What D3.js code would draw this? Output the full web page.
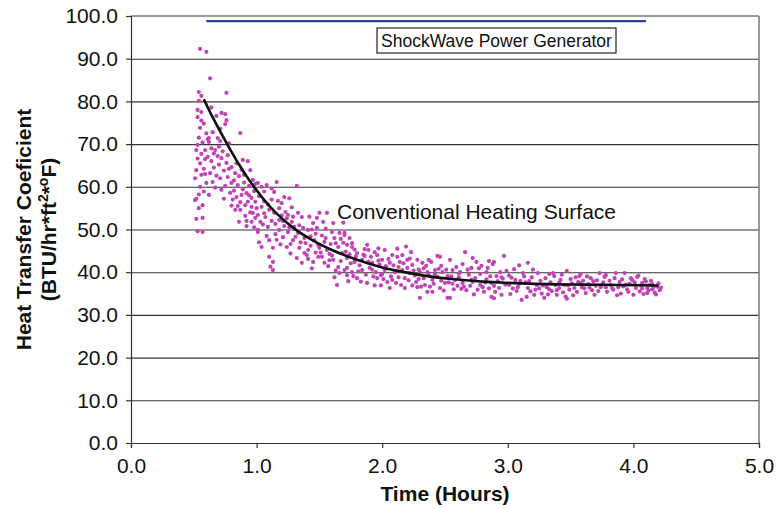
<!DOCTYPE html>
<html>
<head>
<meta charset="utf-8">
<script src="https://cdn.jsdelivr.net/npm/d3@7"></script>
<style>
  body { margin: 0; background: #fff; }
  text { font-family: "Liberation Sans", Arial, sans-serif; fill: #111; }
</style>
</head>
<body>
<script>
// tick values for both axes
var xTicks = [0, 1, 2, 3, 4, 5];
var yTicks = [0, 10, 20, 30, 40, 50, 60, 70, 80, 90, 100];

// ShockWave run, flat line near the top (hours, value)
var shockTime = [0.6, 4.1];
var shockValue = [98.8, 98.8];

// trend line through the conventional surface data
var fitLine = [[0.58,80.5],[0.65,76.3],[0.75,70.8],[0.85,65.7],[0.95,61.2],[1.05,57.3],[1.15,54.0],
  [1.3,50.2],[1.45,47.4],[1.6,45.2],[1.8,42.9],[2.0,41.1],[2.2,39.9],[2.4,38.9],[2.6,38.3],
  [2.8,37.8],[3.0,37.5],[3.3,37.2],[3.6,37.1],[3.9,37.0],[4.2,36.9]];

// conventional heating surface measurements [hours, coefficient]
var convPoints = [
  [0.52,57.2],[0.53,49.6],[0.52,52.5],[0.54,55.0],[0.55,92.3],[0.60,91.6],[0.54,82.2],[0.56,81.3],[0.54,80.1],[0.53,78.0],
  [0.56,77.5],[0.53,76.3],[0.55,73.8],[0.53,69.8],[0.52,68.6],[0.56,67.7],[0.59,68.6],[0.52,63.9],[0.51,62.0],[0.60,60.9],
  [0.51,56.9],[0.57,55.7],[0.57,52.7],[0.57,49.4],[0.55,65.5],[0.58,64.2],[0.54,71.5],[0.57,70.4],[0.58,74.8],[0.59,66.5],
  [0.56,62.8],[0.58,58.9],[0.55,60.0],[0.53,66.6],[0.60,72.5],[0.56,75.5],[0.59,63.0],[0.54,58.2],
  [0.63,85.4],[0.76,82.0],[0.68,76.6],[0.72,77.3],[0.75,77.0],[0.76,75.6],[0.75,74.7],[0.87,72.6],[0.62,71.4],[0.69,71.4],
  [0.61,71.2],[0.62,70.5],[0.71,70.7],[0.64,69.0],[0.67,68.6],[0.69,67.2],[0.61,67.0],[0.64,66.0],[0.72,66.7],[0.77,67.4],
  [0.76,65.6],[0.80,64.6],[0.65,61.1],[0.71,62.0],[0.77,62.3],[0.72,59.3],[0.80,60.9],[0.66,64.5],[0.70,65.2],[0.74,63.8],
  [0.63,63.2],[0.68,62.6],[0.73,68.3],[0.78,70.2],[0.66,67.8],[0.79,58.6],[0.75,60.2],[0.62,58.1],[0.67,59.8],[0.74,57.2],
  [0.70,69.4],[0.65,72.8],[0.64,78.6],[0.71,73.6],[0.78,64.2],
  [0.83,63.2],[0.89,66.3],[0.93,66.0],[0.95,63.9],[0.85,60.4],[0.84,57.6],[0.88,58.1],[0.92,58.5],[0.96,57.4],[0.87,56.4],
  [0.91,55.7],[0.96,55.3],[1.00,55.0],[0.83,54.6],[0.87,54.6],[0.97,53.9],[0.99,52.7],[0.92,52.0],[0.96,51.8],[0.92,50.8],
  [0.82,61.5],[0.86,62.5],[0.90,61.0],[0.94,60.2],[0.98,59.0],[0.81,57.0],[0.89,59.4],[0.93,56.5],[0.85,55.5],[0.97,61.6],
  [0.91,53.2],[0.99,56.5],[0.88,64.0],[0.82,59.1],[0.95,54.0],[0.84,65.5],[0.90,62.8],[0.94,58.0],[0.99,60.7],[0.80,55.6],
  [0.86,51.8],[0.98,50.5],
  [1.01,53.4],[1.03,51.8],[1.01,49.4],[1.01,60.9],[1.04,60.0],[1.08,60.4],[1.16,61.1],[1.14,58.8],[1.22,57.6],[1.20,56.2],
  [1.04,55.3],[1.10,54.6],[1.14,53.9],[1.07,52.9],[1.18,52.2],[1.01,49.9],[1.09,50.6],[1.18,49.9],[1.21,48.2],[1.10,47.5],
  [1.04,45.9],[1.13,45.7],[1.24,45.9],[1.10,43.6],[1.13,42.4],[1.13,40.5],[1.11,41.3],[1.06,56.6],[1.12,57.0],[1.18,55.0],
  [1.23,54.1],[1.05,51.2],[1.15,51.3],[1.22,50.8],[1.08,48.5],[1.16,47.6],[1.19,46.5],[1.24,52.6],[1.02,57.8],[1.12,52.0],
  [1.20,53.3],[1.06,53.8],[1.15,48.9],[1.02,47.0],[1.06,58.9],[1.09,55.9],[1.17,56.7],[1.21,52.0],[1.12,59.6],
  [1.32,60.2],[1.25,53.4],[1.33,53.9],[1.28,51.8],[1.36,52.9],[1.45,51.5],[1.25,49.4],[1.33,49.2],[1.41,49.9],[1.48,50.4],
  [1.29,47.5],[1.38,48.0],[1.46,47.5],[1.34,45.7],[1.41,45.2],[1.32,43.3],[1.41,43.1],[1.36,42.2],[1.45,42.4],[1.27,46.6],
  [1.30,50.6],[1.37,50.4],[1.43,48.4],[1.49,46.4],[1.27,44.4],[1.39,46.8],[1.47,44.6],[1.31,48.3],[1.44,50.0],[1.35,47.0],
  [1.40,44.0],[1.49,43.6],[1.28,55.2],[1.42,53.0],[1.26,50.5],[1.29,53.0],[1.34,51.0],[1.38,44.5],[1.43,46.2],[1.47,49.0],
  [1.26,57.3],[1.48,52.7],[1.44,40.9],
  [1.50,53.9],[1.56,53.9],[1.53,51.8],[1.61,51.5],[1.60,49.4],[1.66,49.2],[1.70,48.7],[1.54,47.1],[1.62,48.0],[1.50,45.7],
  [1.56,45.2],[1.65,45.9],[1.72,46.4],[1.52,43.6],[1.61,42.9],[1.54,42.2],[1.65,41.2],[1.70,40.5],[1.66,39.8],[1.72,39.3],
  [1.70,49.2],[1.72,43.3],[1.72,41.0],[1.64,37.0],[1.58,44.3],[1.68,44.5],[1.52,48.6],[1.59,46.6],[1.67,42.6],[1.63,40.4],
  [1.57,41.4],[1.74,44.2],[1.60,43.9],[1.69,46.9],[1.55,50.2],[1.73,37.9],[1.62,38.8],[1.74,48.0],[1.51,44.6],[1.55,48.0],
  [1.58,42.8],[1.63,46.8],[1.67,47.8],[1.71,44.8],[1.69,51.6],
  [1.76,46.8],[1.76,45.9],[1.86,45.4],[1.89,45.2],[1.94,44.7],[1.96,44.0],[1.80,44.5],[1.78,42.4],[1.84,42.9],[1.92,42.2],
  [1.76,40.0],[1.84,40.5],[1.90,41.0],[1.95,40.0],[1.80,38.6],[1.88,37.5],[1.96,38.6],[1.82,41.6],[1.87,39.4],[1.93,39.0],
  [1.98,41.8],[1.79,43.7],[1.86,43.8],[1.91,43.6],[1.99,39.3],[1.83,37.8],[1.94,36.9],[1.77,39.1],[1.88,46.4],[1.97,42.7],
  [1.75,42.1],[1.78,45.3],[1.81,40.2],[1.85,44.1],[1.89,42.5],[1.92,40.6],[1.97,45.6],[1.99,36.9],
  [2.02,45.2],[2.08,44.0],[2.12,43.6],[2.16,44.0],[2.23,44.7],[2.00,42.9],[2.06,42.2],[2.14,42.4],[2.20,42.9],[2.24,41.7],
  [2.02,40.5],[2.10,40.0],[2.16,40.5],[2.22,39.8],[2.04,37.7],[2.11,37.5],[2.18,38.6],[2.27,37.7],[2.06,36.3],[2.18,36.3],
  [2.28,36.5],[2.07,39.0],[2.13,38.8],[2.20,41.0],[2.26,39.2],[2.03,41.4],[2.09,41.6],[2.15,37.0],[2.24,36.9],[2.29,40.6],
  [2.01,38.4],[2.22,43.2],[2.12,45.5],[2.28,42.9],[2.00,39.6],[2.05,43.1],[2.08,38.2],[2.13,41.2],[2.17,42.1],[2.21,38.1],
  [2.25,40.4],[2.29,38.4],[2.19,46.0],
  [2.30,34.0],[2.32,42.2],[2.39,42.4],[2.46,43.6],[2.54,42.9],[2.30,40.0],[2.36,40.0],[2.42,40.5],[2.48,40.0],[2.56,40.5],
  [2.62,40.0],[2.34,37.0],[2.40,38.2],[2.50,37.5],[2.58,38.2],[2.46,36.3],[2.54,34.0],[2.52,34.0],[2.44,43.8],[2.66,44.7],
  [2.64,41.9],[2.64,37.5],[2.33,38.6],[2.38,36.6],[2.44,38.9],[2.52,39.1],[2.60,36.8],[2.35,41.5],[2.41,37.3],[2.47,41.5],
  [2.53,37.6],[2.57,36.0],[2.61,38.8],[2.37,39.3],[2.49,35.7],[2.45,40.8],[2.59,41.2],[2.31,36.6],[2.55,39.0],[2.63,36.1],
  [2.40,35.4],[2.33,40.9],[2.37,42.9],[2.42,39.5],[2.47,38.0],[2.51,40.6],[2.56,37.3],[2.61,39.7],[2.65,36.6],[2.36,35.4],
  [2.75,42.4],[2.88,41.9],[2.89,42.4],[2.84,41.0],[2.85,42.6],[2.97,43.8],[2.99,40.3],[2.72,37.7],[2.80,36.5],[2.87,37.5],
  [2.93,36.3],[2.67,35.8],[2.81,35.4],[2.95,34.7],[2.87,34.2],[2.69,39.4],[2.74,38.6],[2.78,39.6],[2.83,38.3],[2.91,39.1],
  [2.96,38.5],[2.70,36.8],[2.76,35.9],[2.85,36.2],[2.90,35.4],[2.98,37.1],[2.68,40.6],[2.77,40.9],[2.82,37.6],[2.94,40.0],
  [2.73,34.8],[2.79,41.5],[2.86,39.0],[2.92,37.9],[2.71,38.2],[2.71,41.0],[2.78,37.0],[2.83,40.0],[2.89,36.8],[2.95,38.8],
  [2.72,43.3],[2.89,33.9],
  [3.01,37.0],[3.05,40.7],[3.12,39.8],[3.08,36.5],[3.16,42.2],[3.11,33.5],[3.15,34.2],[3.16,36.3],[3.24,39.8],[3.23,37.0],
  [3.21,34.7],[3.33,39.6],[3.37,39.1],[3.31,36.5],[3.29,34.0],[3.39,35.8],[3.39,34.7],[3.36,39.8],[3.03,38.7],[3.07,35.6],
  [3.10,38.0],[3.14,37.6],[3.19,38.8],[3.18,35.5],[3.26,38.0],[3.28,36.9],[3.34,37.6],[3.04,36.2],[3.13,39.0],[3.22,35.9],
  [3.30,38.6],[3.35,35.6],[3.02,34.9],[3.20,40.6],[3.27,35.0],[3.38,37.0],[3.06,38.2],[3.32,34.8],[3.01,39.2],[3.09,37.3],
  [3.17,37.9],[3.25,36.2],[3.33,36.0],[3.09,41.6],
  [3.45,37.0],[3.47,40.3],[3.53,36.3],[3.55,35.4],[3.57,39.1],[3.58,39.6],[3.59,36.5],[3.67,35.8],[3.69,34.7],[3.73,39.8],
  [3.74,36.5],[3.78,39.3],[3.79,35.4],[3.77,38.9],[3.78,36.5],[3.42,38.2],[3.44,35.3],[3.48,36.9],[3.50,38.4],[3.52,34.6],
  [3.56,37.7],[3.60,38.0],[3.62,35.1],[3.64,37.2],[3.66,38.6],[3.70,36.8],[3.72,35.6],[3.76,37.6],[3.43,39.4],[3.51,37.4],
  [3.61,36.2],[3.68,37.9],[3.46,34.3],[3.63,39.0],[3.71,38.1],[3.54,38.8],[3.41,36.3],[3.41,37.6],[3.49,35.9],[3.58,37.4],
  [3.65,36.4],[3.75,37.1],[3.47,33.8],
  [3.86,39.8],[3.93,39.8],[3.89,37.7],[3.99,38.2],[4.07,37.5],[4.11,36.3],[4.03,38.9],[4.00,34.7],[4.11,35.1],[3.82,37.0],
  [3.84,35.9],[3.88,36.5],[3.91,38.3],[3.95,36.0],[3.97,37.3],[4.02,36.3],[4.05,35.5],[4.09,38.4],[4.13,37.0],[4.15,36.0],
  [4.17,35.2],[4.19,36.6],[4.21,35.8],[4.20,37.4],[4.18,34.8],[3.85,38.6],[3.90,35.0],[3.94,37.1],[4.01,37.6],[4.06,36.9],
  [4.14,38.0],[4.16,36.6],[4.08,34.9],[3.81,38.0],[3.96,35.4],[4.04,39.2],[4.12,35.7],[4.22,36.4],[3.87,34.6],[4.10,37.8],
  [3.83,36.3],[3.92,36.7],[3.98,38.6],[4.07,36.2],[4.15,37.2]
];

var svgW = 777, svgH = 509;
var margin = {left:131, right:18, top:16, bottom:66};
var width = svgW - margin.left - margin.right;
var height = svgH - margin.top - margin.bottom;

var x = d3.scaleLinear().domain([0, 5]).range([0, width]);
var y = d3.scaleLinear().domain([0, 100]).range([height, 0]);

var svg = d3.select("body").append("svg")
    .attr("width", svgW).attr("height", svgH);

var chartGroup = svg.append("g")
    .attr("transform", "translate(" + margin.left + "," + margin.top + ")");

// horizontal grid lines
chartGroup.append("g")
    .attr("class", "grid")
    .call(d3.axisLeft(y).tickValues(yTicks.slice(1, -1)).tickSize(-width).tickFormat(""))
    .call(function(g){ g.select(".domain").remove(); })
    .selectAll("line").attr("stroke", "#333").attr("stroke-width", 1.1);

// top and right frame
chartGroup.append("line").attr("x1", 0).attr("x2", width).attr("y1", y(100)).attr("y2", y(100))
    .attr("stroke", "#777").attr("stroke-width", 1.5);
chartGroup.append("line").attr("x1", width).attr("x2", width).attr("y1", 0).attr("y2", height)
    .attr("stroke", "#777").attr("stroke-width", 1.5);

// scatter points
chartGroup.append("g").selectAll("circle")
    .data(convPoints).enter().append("circle")
    .attr("cx", function(d){ return x(d[0]); })
    .attr("cy", function(d){ return y(d[1]); })
    .attr("r", 2.1)
    .attr("fill", "#c044b6");

// trend line
var line = d3.line()
    .x(function(d){ return x(d[0]); })
    .y(function(d){ return y(d[1]); })
    .curve(d3.curveMonotoneX);

chartGroup.append("path").attr("d", line(fitLine))
    .attr("fill", "none").attr("stroke", "#111").attr("stroke-width", 2.6);

// shockwave line
chartGroup.append("path")
    .attr("d", line(shockTime.map(function(t, i){ return [t, shockValue[i]]; })))
    .attr("fill", "none").attr("stroke", "#2b3d94").attr("stroke-width", 2.2);

// axes
var yAxis = d3.axisLeft(y).tickValues(yTicks).tickSize(5).tickPadding(8)
    .tickFormat(d3.format(".1f"));
var xAxis = d3.axisBottom(x).tickValues(xTicks).tickSize(5).tickPadding(8)
    .tickFormat(d3.format(".1f"));

var yG = chartGroup.append("g").attr("class", "axis y").call(yAxis);
var xG = chartGroup.append("g").attr("class", "axis x")
    .attr("transform", "translate(0," + height + ")").call(xAxis);

[yG, xG].forEach(function(g){
  g.selectAll("text").style("font-size", "21px").attr("fill", "#111");
  g.selectAll("line, path").attr("stroke", "#333").attr("stroke-width", 1.2);
});
xG.selectAll("text").attr("dy", "0.8em");

// legend box for shockwave line
var legend = chartGroup.append("g").attr("transform", "translate(" + (377 - margin.left) + "," + (28 - margin.top) + ")");
legend.append("rect").attr("width", 239).attr("height", 25)
    .attr("fill", "#fff").attr("stroke", "#222").attr("stroke-width", 1.2);
legend.append("text").attr("x", 119.5).attr("y", 18.5).attr("text-anchor", "middle")
    .style("font-size", "17.5px").text("ShockWave Power Generator");

// label next to the curve
chartGroup.append("text").attr("x", 337 - margin.left).attr("y", 219 - margin.top)
    .style("font-size", "21px").text("Conventional Heating Surface");

// axis titles
svg.append("text").attr("x", margin.left + width / 2).attr("y", 501)
    .attr("text-anchor", "middle").style("font-size", "21px").style("font-weight", "bold")
    .text("Time (Hours)");

var yTitle = svg.append("text")
    .attr("transform", "translate(31," + (margin.top + height / 2) + ") rotate(-90)")
    .attr("text-anchor", "middle").style("font-size", "21px").style("font-weight", "bold");
yTitle.append("tspan").attr("x", 0).attr("y", 0).text("Heat Transfer Coeficient");
yTitle.append("tspan").attr("x", 0).attr("y", 25).text("(BTU/hr*ft");
yTitle.append("tspan").attr("dy", -8).style("font-size", "14px").text("2");
yTitle.append("tspan").attr("dy", 8).text("*");
yTitle.append("tspan").attr("dy", -8).style("font-size", "14px").text("o");
yTitle.append("tspan").attr("dy", 8).text("F)");
</script>
</body>
</html>
